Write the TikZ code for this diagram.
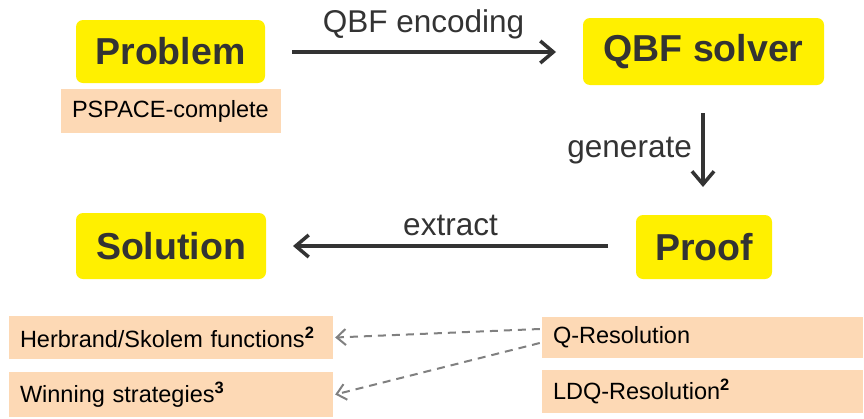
\documentclass[tikz,border=0pt]{standalone}
\usepackage{fontspec}
\setmainfont{Liberation Sans}
\usetikzlibrary{arrows.meta,calc}
\definecolor{boxyellow}{RGB}{255,240,0}
\definecolor{peach}{RGB}{253,217,181}
\definecolor{darktext}{RGB}{51,51,51}
\definecolor{dashgray}{RGB}{128,128,128}
\newcommand{\supb}[1]{\textsuperscript{\bfseries #1}}
\begin{document}
\begin{tikzpicture}[x=1pt,y=-1pt,
  mainbox/.style={fill=boxyellow, rounded corners=7pt, inner sep=0pt, font=\fontsize{37.5}{44}\selectfont\bfseries, text=darktext},
  tagbox/.style={fill=peach, inner xsep=11pt, inner ysep=0pt, font=\fontsize{23.5}{28}\selectfont, text=black, align=left},
  flow/.style={draw=darktext, line width=3.5pt, -{Straight Barb[length=13pt,width=22pt]}},
  flowlabel/.style={font=\fontsize{31.5}{37}\selectfont, text=darktext, inner sep=0pt},
  link/.style={draw=dashgray, line width=2pt, dash pattern=on 8pt off 6pt, -{Straight Barb[length=9pt,width=16pt]}}
]
\fill[white] (0,0) rectangle (864,418);
\useasboundingbox (0,0) rectangle (864,418);

\node[mainbox, minimum width=189pt, minimum height=63pt] (problem) at (170.5,51.5) {Problem};
\node[tagbox, text width=198pt, minimum height=44pt] (pspace) at (171,111) {PSPACE-complete};
\node[mainbox, minimum width=241pt, minimum height=67pt] (solver) at (703.5,51.5) {QBF solver};
\node[mainbox, minimum width=136pt, minimum height=64pt] (proof) at (704,247) {Proof};
\node[mainbox, minimum width=190pt, minimum height=66pt] (solution) at (171,246) {Solution};

\node[tagbox, text width=302pt, minimum height=43pt] (herbrand) at (171,337.5) {Herbrand/Skolem functions\supb{2}};
\node[tagbox, text width=302pt, minimum height=45pt] (winning) at (171,394.5) {Winning strategies\supb{3}};
\node[tagbox, text width=299pt, minimum height=41pt] (qres) at (702.5,337) {Q-Resolution};
\node[tagbox, text width=299pt, minimum height=43pt] (ldq) at (702.5,391.5) {LDQ-Resolution\supb{2}};

\coordinate (encA) at (292,52);
\coordinate (encB) at (556,52);
\draw[flow] (encA) -- (encB);
\node[flowlabel, anchor=base] (enclab) at (423.5,32) {QBF encoding};

\coordinate (genA) at (703,113);
\coordinate (genB) at (703,187);
\draw[flow] (genA) -- (genB);
\node[flowlabel, anchor=base east] (genlab) at (692,157) {generate};

\coordinate (extA) at (608,246);
\coordinate (extB) at (293,246);
\draw[flow] (extA) -- (extB);
\node[flowlabel, anchor=base] (extlab) at (450.5,235) {extract};

\draw[link] ($(qres.west)+(-2,-8)$) -- ($(herbrand.east)+(2,0)$);
\draw[link] ($(qres.west)+(-2,6)$) -- ($(winning.east)+(2,0)$);
\end{tikzpicture}
\end{document}
